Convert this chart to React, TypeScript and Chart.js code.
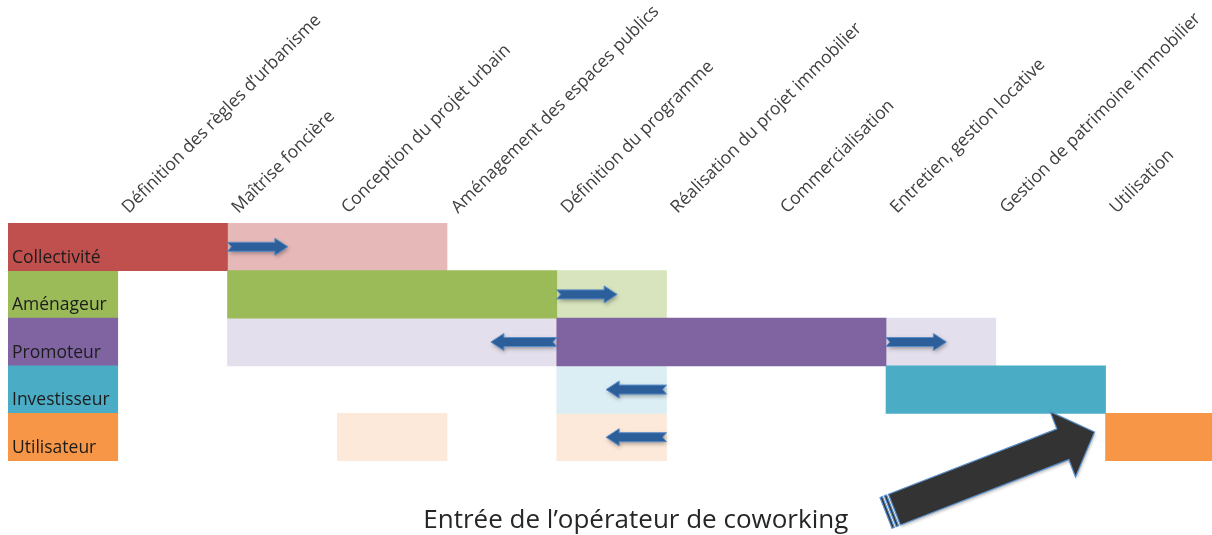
import React, { useEffect, useRef } from 'react';
import { Chart, registerables } from 'chart.js';

Chart.register(...registerables);

// Actors (rows) and phases (columns)
const ACTORS = ['Collectivité', 'Aménageur', 'Promoteur', 'Investisseur', 'Utilisateur'];
const PHASES = [
  'Définition des règles d’urbanisme',
  'Maîtrise foncière',
  'Conception du projet urbain',
  'Aménagement des espaces publics',
  'Définition du programme',
  'Réalisation du projet immobilier',
  'Commercialisation',
  'Entretien, gestion locative',
  'Gestion de patrimoine immobilier',
  'Utilisation',
];

// Spans in column units (column 0 = actor label cell, column k = PHASES[k-1])
const LABEL_CELL: ([number, number] | null)[] = [[0, 1], [0, 1], [0, 1], [0, 1], [0, 1]];
const LEAD_SPAN: ([number, number] | null)[] = [[0, 2], [2, 5], [5, 8], [8, 10], [10, 11]];
const SUPPORT_SPAN_A: ([number, number] | null)[] = [[2, 4], [5, 6], [2, 5], [5, 6], [3, 4]];
const SUPPORT_SPAN_B: ([number, number] | null)[] = [null, null, [8, 9], null, [5, 6]];

const DARK_COLORS = ['#C0504D', '#9BBB59', '#8064A2', '#4BACC6', '#F79646'];
const LIGHT_COLORS = ['#E6B9B8', '#D7E4BD', '#E4DFEC', '#DBEEF4', '#FDE9D9'];

// Hand-over arrows: row index, start and end in column units
const ARROW_ROW = [0, 1, 2, 2, 3, 4];
const ARROW_FROM = [2, 5, 5, 8, 6, 6];
const ARROW_TO = [2.55, 5.55, 4.4, 8.55, 5.45, 5.45];

// Coworking operator annotation (column units / row units)
const BIG_ARROW_TAIL = [8.0, 5.59];
const BIG_ARROW_TIP = [9.9, 3.89];
const CAPTION = 'Entrée de l’opérateur de coworking';
const CAPTION_POS = [5.72, 5.91];

const FONT = '"Open Sans", Lato, "DejaVu Sans", sans-serif';

function drawSmallArrow(ctx: CanvasRenderingContext2D, x0: number, x1: number, yc: number) {
  const dir = Math.sign(x1 - x0);
  const len = Math.abs(x1 - x0);
  const sh = 4.5;
  const hh = 8.5;
  const hl = 13;
  const notch = 4;
  const px = (d: number) => x0 + dir * d;
  ctx.save();
  ctx.beginPath();
  ctx.moveTo(px(0), yc - sh);
  ctx.lineTo(px(len - hl), yc - sh);
  ctx.lineTo(px(len - hl), yc - hh);
  ctx.lineTo(px(len), yc);
  ctx.lineTo(px(len - hl), yc + hh);
  ctx.lineTo(px(len - hl), yc + sh);
  ctx.lineTo(px(0), yc + sh);
  ctx.lineTo(px(notch), yc);
  ctx.closePath();
  ctx.shadowColor = 'rgba(0,0,0,0.35)';
  ctx.shadowBlur = 4;
  ctx.shadowOffsetX = 1;
  ctx.shadowOffsetY = 2;
  ctx.fillStyle = '#2C5F9A';
  ctx.fill();
  ctx.shadowColor = 'transparent';
  ctx.strokeStyle = '#5A8CC8';
  ctx.lineWidth = 1;
  ctx.stroke();
  ctx.restore();
}

function drawBigArrow(ctx: CanvasRenderingContext2D, tx: number, ty: number, px: number, py: number) {
  const dx = px - tx;
  const dy = py - ty;
  const L = Math.hypot(dx, dy);
  const d = [dx / L, dy / L];
  const n = [-d[1], d[0]];
  const pt = (s: number, t: number): [number, number] => [tx + d[0] * s + n[0] * t, ty + d[1] * s + n[1] * t];
  const sh = 16.5;
  const hh = 35;
  const hl = 34;
  const poly = (pts: [number, number][]) => {
    ctx.beginPath();
    ctx.moveTo(pts[0][0], pts[0][1]);
    for (let i = 1; i < pts.length; i++) ctx.lineTo(pts[i][0], pts[i][1]);
    ctx.closePath();
  };
  ctx.save();
  ctx.fillStyle = '#333333';
  ctx.strokeStyle = '#5B8FCB';
  ctx.lineWidth = 1.2;
  ctx.lineJoin = 'miter';
  const stripes: [number, number][] = [[0, 2.5], [4.5, 7]];
  for (const [a, b] of stripes) {
    poly([pt(a, -sh), pt(b, -sh), pt(b, sh), pt(a, sh)]);
    ctx.fill();
    ctx.stroke();
  }
  poly([
    pt(9, -sh),
    pt(L - hl, -sh),
    pt(L - hl, -hh),
    pt(L, 0),
    pt(L - hl, hh),
    pt(L - hl, sh),
    pt(9, sh),
  ]);
  ctx.shadowColor = 'rgba(0,0,0,0.25)';
  ctx.shadowBlur = 3;
  ctx.shadowOffsetX = 1;
  ctx.shadowOffsetY = 2;
  ctx.fill();
  ctx.shadowColor = 'transparent';
  ctx.stroke();
  ctx.restore();
}

const overlayPlugin = {
  id: 'overlay',
  afterDatasetsDraw(chart: any) {
    const { ctx, chartArea } = chart;
    const x = chart.scales.x;
    const y = chart.scales.y;
    const band = y.getPixelForValue(1) - y.getPixelForValue(0);

    for (let i = 0; i < ARROW_ROW.length; i++) {
      drawSmallArrow(ctx, x.getPixelForValue(ARROW_FROM[i]), x.getPixelForValue(ARROW_TO[i]), y.getPixelForValue(ARROW_ROW[i]));
    }

    ctx.save();
    ctx.font = `17.5px ${FONT}`;
    ctx.fillStyle = '#1c1c1c';
    ctx.textAlign = 'left';
    ctx.textBaseline = 'alphabetic';
    ACTORS.forEach((a, i) => {
      ctx.fillText(a, x.getPixelForValue(0) + 4, y.getPixelForValue(i) + band / 2 - 8);
    });

    ctx.font = `17.5px ${FONT}`;
    ctx.fillStyle = '#404040';
    PHASES.forEach((p, i) => {
      ctx.save();
      ctx.translate(x.getPixelForValue(i + 1) + 11, chartArea.top - 9);
      ctx.rotate(-Math.PI / 4);
      ctx.fillText(p, 0, 0);
      ctx.restore();
    });
    ctx.restore();

    drawBigArrow(
      ctx,
      x.getPixelForValue(BIG_ARROW_TAIL[0]),
      y.getPixelForValue(BIG_ARROW_TAIL[1]),
      x.getPixelForValue(BIG_ARROW_TIP[0]),
      y.getPixelForValue(BIG_ARROW_TIP[1])
    );
    ctx.save();
    ctx.font = `26px ${FONT}`;
    ctx.fillStyle = '#262626';
    ctx.textAlign = 'center';
    ctx.textBaseline = 'alphabetic';
    ctx.fillText(CAPTION, x.getPixelForValue(CAPTION_POS[0]), y.getPixelForValue(CAPTION_POS[1]));
    ctx.restore();
  },
};

export default function App() {
  const ref = useRef<HTMLCanvasElement>(null);
  useEffect(() => {
    if (!ref.current) return;
    const common = { borderWidth: 0, barPercentage: 1, categoryPercentage: 1, borderSkipped: false };
    const chart = new Chart(ref.current, {
      type: 'bar',
      data: {
        labels: ACTORS,
        datasets: [
          { label: 'Pilote', data: LEAD_SPAN as any, backgroundColor: DARK_COLORS, ...common },
          { label: 'Acteur', data: LABEL_CELL as any, backgroundColor: DARK_COLORS, ...common },
          { label: 'Support A', data: SUPPORT_SPAN_A as any, backgroundColor: LIGHT_COLORS, ...common },
          { label: 'Support B', data: SUPPORT_SPAN_B as any, backgroundColor: LIGHT_COLORS, ...common },
        ],
      },
      options: {
        indexAxis: 'y',
        responsive: false,
        animation: false,
        layout: { padding: { left: 8, right: 0, top: 223, bottom: 74 } },
        plugins: { legend: { display: false }, tooltip: { enabled: false }, title: { display: false } },
        scales: {
          x: { type: 'linear', min: 0, max: 10.97, display: false, stacked: false },
          y: { type: 'category', display: false, stacked: true, offset: true },
        },
      },
      plugins: [overlayPlugin],
    } as any);
    return () => chart.destroy();
  }, []);
  return (
    <div style={{ position: 'absolute', left: 0, top: 0, width: 1212, height: 535, background: '#fff' }}>
      <canvas ref={ref} width={1212} height={535} style={{ display: 'block' }} />
    </div>
  );
}
